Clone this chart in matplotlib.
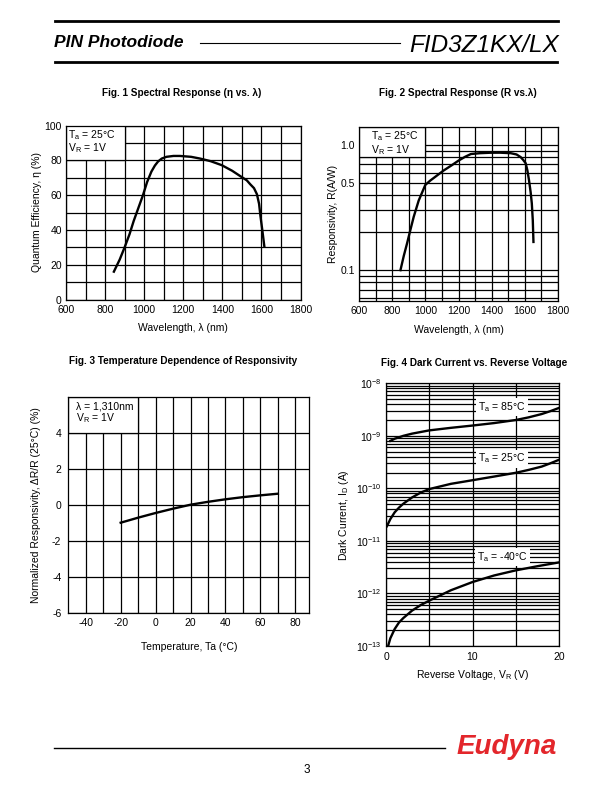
import matplotlib
matplotlib.use("Agg")
import matplotlib.pyplot as plt
from matplotlib.patches import Rectangle
from matplotlib.lines import Line2D
from matplotlib.ticker import FixedLocator, NullFormatter, LogLocator

plt.rcParams['font.family'] = ['Liberation Sans', 'DejaVu Sans']
plt.rcParams['mathtext.fontset'] = 'custom'
plt.rcParams['mathtext.rm'] = 'Liberation Sans'
plt.rcParams['mathtext.it'] = 'Liberation Sans:italic'
plt.rcParams['mathtext.bf'] = 'Liberation Sans:bold'
plt.rcParams['font.size'] = 7.5
plt.rcParams['axes.linewidth'] = 0.9
plt.rcParams['axes.unicode_minus'] = False

W, H = 612, 792

# Fig. 1 quantum efficiency vs wavelength
qe_wavelength = [845, 875, 900, 925, 946, 970, 994, 1015, 1037, 1055, 1071, 1090, 1114, 1150,
                 1183, 1240, 1286, 1340, 1397, 1450, 1500, 1525, 1543, 1562, 1577, 1588, 1595,
                 1605, 1615]
qe_percent = [16, 23, 30, 37.5, 45, 52.5, 60, 67.5, 73.5, 77, 79.3, 81, 82, 82.5,
              82.5, 82, 81, 79.5, 77.2, 74, 70.3, 68.5, 66.2, 64, 60.5, 55, 48,
              39.5, 30.5]

# Fig. 2 responsivity vs wavelength
resp_wavelength = [850, 870, 890, 910, 930, 960, 1000, 1030, 1060, 1110, 1160, 1200, 1240,
                   1275, 1330, 1390, 1450, 1515, 1550, 1575, 1590, 1605, 1615, 1625, 1635,
                   1642, 1648, 1652]
resp_aw = [0.1, 0.13, 0.164, 0.21, 0.267, 0.36, 0.48, 0.52, 0.557, 0.625, 0.69, 0.75, 0.805,
           0.847, 0.86, 0.867, 0.868, 0.86, 0.84, 0.80, 0.76, 0.715, 0.63, 0.525, 0.42,
           0.342, 0.25, 0.168]

# Fig. 3 temperature dependence
temp_c = [-20, -10, 0, 10, 20, 30, 40, 50, 60, 70]
delta_r = [-1.0, -0.72, -0.46, -0.22, 0.0, 0.16, 0.3, 0.42, 0.52, 0.61]

# Fig. 4 dark current vs reverse voltage
dark_v_85 = [0.5, 1, 2, 3, 5, 7.5, 10, 12.5, 15, 16.5, 18, 19, 20]
dark_i_85 = [8.0e-10, 8.8e-10, 1.0e-9, 1.1e-9, 1.27e-9, 1.42e-9, 1.57e-9, 1.75e-9, 2.0e-9,
             2.25e-9, 2.6e-9, 2.95e-9, 3.4e-9]
dark_v_25 = [0.1, 0.5, 1, 1.5, 2, 3, 4, 5, 7.5, 10, 12.5, 15, 16.5, 18, 19, 20]
dark_i_25 = [1.9e-11, 2.6e-11, 3.5e-11, 4.3e-11, 5.1e-11, 6.7e-11, 8.3e-11, 9.7e-11,
             1.22e-10, 1.43e-10, 1.68e-10, 1.98e-10, 2.25e-10, 2.6e-10, 3.0e-10, 3.5e-10]
dark_v_m40 = [0.25, 0.5, 1, 1.5, 2, 3, 4, 5, 7.5, 10, 12.5, 15, 17.5, 20]
dark_i_m40 = [1.0e-13, 1.4e-13, 2.1e-13, 2.8e-13, 3.4e-13, 4.7e-13, 6.0e-13, 7.3e-13,
              1.15e-12, 1.65e-12, 2.2e-12, 2.75e-12, 3.3e-12, 3.9e-12]
dark_labels = [r"T$_\mathrm{a}$ = 85°C", r"T$_\mathrm{a}$ = 25°C", r"T$_\mathrm{a}$ = -40°C"]
dark_label_pos = [(13.4, 3.5e-9), (13.4, 3.7e-10), (13.5, 4.9e-12)]
dark_ticks = [1e-13, 1e-12, 1e-11, 1e-10, 1e-9, 1e-8]
dark_tick_labels = [r"10$^{-13}$", r"10$^{-12}$", r"10$^{-11}$", r"10$^{-10}$",
                    r"10$^{-9}$", r"10$^{-8}$"]

TITLE_SIZE = 7.2


def axes_at(fig, left, top, right, bottom):
    # pixel box on the page -> figure fraction
    return fig.add_axes([left / W, 1 - bottom / H, (right - left) / W, (bottom - top) / H])


def style_axes(ax):
    ax.tick_params(which='both', length=0, pad=3, labelsize=7.5)
    ax.grid(True, which='both', color='black', linewidth=0.9)
    ax.set_axisbelow(True)
    for s in ax.spines.values():
        s.set_linewidth(0.9)


def legend_box(ax, x0, y0, x1, y1):
    ax.add_patch(Rectangle((x0, y0), x1 - x0, y1 - y0, facecolor='white', edgecolor='black',
                           linewidth=0.9, zorder=1))


def plot_fig1(fig):
    ax = axes_at(fig, 66, 125.5, 300.5, 299.5)
    ax.set_xlim(600, 1800)
    ax.set_ylim(0, 100)
    ax.xaxis.set_major_locator(FixedLocator(range(600, 1801, 200)))
    ax.xaxis.set_minor_locator(FixedLocator(range(700, 1800, 200)))
    ax.yaxis.set_major_locator(FixedLocator(range(0, 101, 20)))
    ax.yaxis.set_minor_locator(FixedLocator(range(10, 100, 20)))
    style_axes(ax)
    ax.tick_params(axis='x', pad=4)
    legend_box(ax, 600, 80, 900, 100)
    ax.text(612, 98.5, "T$_\\mathrm{a}$ = 25°C\nV$_\\mathrm{R}$ = 1V", ha='left', va='top',
            fontsize=7.5, zorder=3, linespacing=0.95)
    ax.plot(qe_wavelength, qe_percent, color='black', linewidth=1.7, zorder=2)
    ax.set_xlabel("Wavelength, λ (nm)", fontsize=7.5, labelpad=6)
    ax.set_ylabel("Quantum Efficiency, η (%)", fontsize=7.5, labelpad=2)
    fig.text(182 / W, 1 - 92.5 / H, "Fig. 1 Spectral Response (η vs. λ)", ha='center',
             va='center', fontsize=TITLE_SIZE, fontweight='bold')


def plot_fig2(fig):
    ax = axes_at(fig, 359, 126.7, 558, 300.7)
    ax.set_yscale('log')
    ax.set_xlim(600, 1800)
    ax.set_ylim(0.057, 1.4)
    ax.xaxis.set_major_locator(FixedLocator(range(600, 1801, 200)))
    ax.xaxis.set_minor_locator(FixedLocator(range(700, 1800, 200)))
    ax.yaxis.set_major_locator(FixedLocator([0.1, 0.5, 1.0]))
    ax.yaxis.set_minor_locator(LogLocator(base=10, subs=range(2, 10)))
    ax.yaxis.set_minor_formatter(NullFormatter())
    ax.set_yticklabels(["0.1", "0.5", "1.0"])
    style_axes(ax)
    ax.tick_params(axis='x', pad=4)
    legend_box(ax, 600, 0.8, 1000, 1.4)
    ax.text(672, 1.33, "T$_\\mathrm{a}$ = 25°C\nV$_\\mathrm{R}$ = 1V", ha='left', va='top',
            fontsize=7.5, zorder=3, linespacing=0.95)
    ax.plot(resp_wavelength, resp_aw, color='black', linewidth=1.7, zorder=2)
    ax.set_xlabel("Wavelength, λ (nm)", fontsize=7.5, labelpad=6)
    ax.set_ylabel("Responsivity, R(A/W)", fontsize=7.5, labelpad=2)
    fig.text(458 / W, 1 - 93 / H, "Fig. 2 Spectral Response (R vs.λ)", ha='center',
             va='center', fontsize=TITLE_SIZE, fontweight='bold')


def plot_fig3(fig):
    ax = axes_at(fig, 68.3, 396.7, 309.3, 612.7)
    ax.set_xlim(-50, 88)
    ax.set_ylim(-6, 6)
    ax.xaxis.set_major_locator(FixedLocator(range(-40, 81, 20)))
    ax.xaxis.set_minor_locator(FixedLocator(range(-30, 90, 20)))
    ax.yaxis.set_major_locator(FixedLocator(range(-6, 5, 2)))
    style_axes(ax)
    ax.tick_params(axis='x', pad=4)
    ax.tick_params(axis='y', pad=5)
    legend_box(ax, -50, 4, -10, 6)
    ax.text(-45.5, 5.72, "λ = 1,310nm\nV$_\\mathrm{R}$ = 1V", ha='left', va='top',
            fontsize=7.5, zorder=3, linespacing=0.95)
    ax.plot(temp_c, delta_r, color='black', linewidth=1.7, zorder=2)
    ax.set_xlabel("Temperature, Ta (°C)", fontsize=7.5, labelpad=10)
    ax.set_ylabel("Normalized Responsivity, ΔR/R (25°C) (%)", fontsize=7.5, labelpad=8)
    fig.text(183 / W, 1 - 361.5 / H, "Fig. 3 Temperature Dependence of Responsivity",
             ha='center', va='center', fontsize=TITLE_SIZE, fontweight='bold')


def plot_fig4(fig):
    ax = axes_at(fig, 386, 383.3, 559, 646)
    ax.set_yscale('log')
    ax.set_xlim(0, 20)
    ax.set_ylim(1e-13, 1e-8)
    ax.xaxis.set_major_locator(FixedLocator([0, 10, 20]))
    ax.xaxis.set_minor_locator(FixedLocator([5, 15]))
    ax.yaxis.set_major_locator(FixedLocator(dark_ticks))
    ax.set_yticklabels(dark_tick_labels)
    ax.yaxis.set_minor_locator(LogLocator(base=10, subs=range(2, 10), numticks=10))
    ax.yaxis.set_minor_formatter(NullFormatter())
    style_axes(ax)
    ax.tick_params(axis='x', pad=4)
    ax.plot(dark_v_85, dark_i_85, color='black', linewidth=1.7, zorder=2)
    ax.plot(dark_v_25, dark_i_25, color='black', linewidth=1.7, zorder=2)
    ax.plot(dark_v_m40, dark_i_m40, color='black', linewidth=1.7, zorder=2)
    for label, (x, y) in zip(dark_labels, dark_label_pos):
        ax.text(x, y, label, ha='center', va='center', fontsize=7.5, zorder=3,
                bbox=dict(facecolor='white', edgecolor='none', pad=1.5))
    ax.set_xlabel("Reverse Voltage, V$_\\mathrm{R}$ (V)", fontsize=7.5, labelpad=5)
    ax.set_ylabel("Dark Current, I$_\\mathrm{D}$ (A)", fontsize=7.5, labelpad=4)
    fig.text(474 / W, 1 - 362.5 / H, "Fig. 4 Dark Current vs. Reverse Voltage",
             ha='center', va='center', fontsize=TITLE_SIZE, fontweight='bold')


def page_frame(fig):
    # header
    fig.add_artist(Line2D([55 / W, 558 / W], [1 - 21 / H, 1 - 21 / H], color='black', linewidth=2))
    fig.add_artist(Line2D([55 / W, 557 / W], [1 - 62 / H, 1 - 62 / H], color='black', linewidth=2))
    fig.add_artist(Line2D([200 / W, 400 / W], [1 - 43 / H, 1 - 43 / H], color='black', linewidth=0.8))
    fig.text(54 / W, 1 - 47 / H, "PIN Photodiode", ha='left', va='baseline', fontsize=12.5,
             fontweight='bold', fontstyle='italic')
    fig.text(559 / W, 1 - 51.5 / H, "FID3Z1KX/LX", ha='right', va='baseline', fontsize=17.5,
             fontstyle='italic')
    # footer
    fig.add_artist(Line2D([54 / W, 445 / W], [1 - 747.5 / H, 1 - 747.5 / H], color='black', linewidth=1))
    fig.text(557 / W, 1 - 754.5 / H, "Eudyna", ha='right', va='baseline', fontsize=20,
             fontweight='bold', fontstyle='italic', color='#e3262b')
    fig.text(307 / W, 1 - 770 / H, "3", ha='center', va='center', fontsize=8.5)


def main():
    fig = plt.figure(figsize=(W / 100, H / 100), dpi=100)
    page_frame(fig)
    plot_fig1(fig)
    plot_fig2(fig)
    plot_fig3(fig)
    plot_fig4(fig)
    fig.savefig("out.png", dpi=100)


main()
